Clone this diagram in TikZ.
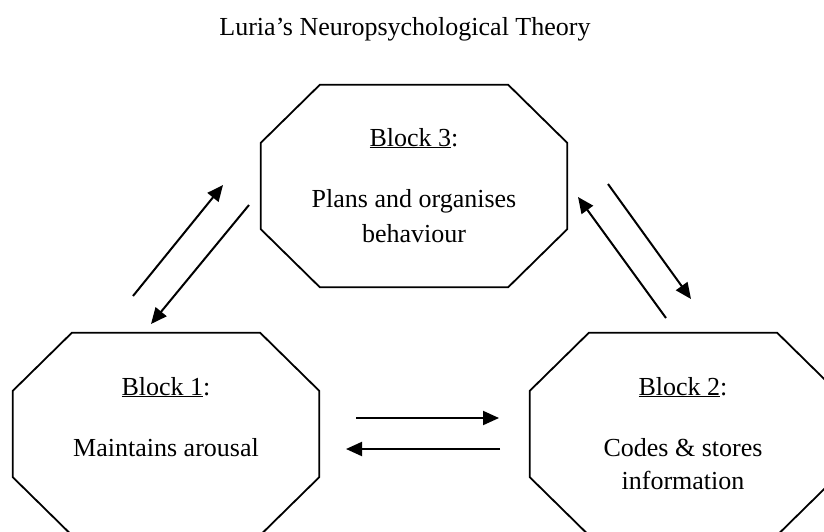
\documentclass[tikz,border=0pt]{standalone}
\usepackage{fontspec}
\setmainfont{Liberation Serif}
\usetikzlibrary{arrows.meta}
\begin{document}
\begin{tikzpicture}[x=1pt,y=-1pt,
  blockbox/.style={draw=none, minimum width=306pt, minimum height=202pt, inner sep=0pt},
  octaline/.style={draw=black, line width=1.8pt, line join=miter},
  conn/.style={line width=2pt, -{Triangle[length=16pt,width=14pt]}},
  lbl/.style={font=\fontsize{26}{30}\selectfont, anchor=base, inner sep=0pt}]
\useasboundingbox (0,0) rectangle (824,531);
\clip (0,0) rectangle (824,531);
% title
\node[lbl] (title) at (405,35) {Luria’s Neuropsychological Theory};
% blocks
\node[blockbox] (b3) at (414,186) {};
\node[blockbox] (b1) at (166,434) {};
\node[blockbox] (b2) at (683,434) {};
\foreach \b in {b1,b2,b3}{
  \draw[octaline] ([xshift=59pt]\b.north west) -- ([xshift=-59pt]\b.north east)
    -- ([yshift=-58pt]\b.north east) -- ([yshift=58pt]\b.south east)
    -- ([xshift=-59pt]\b.south east) -- ([xshift=59pt]\b.south west)
    -- ([yshift=58pt]\b.south west) -- ([yshift=-58pt]\b.north west) -- cycle;
}
% texts
\node[lbl] (t3a) at ([yshift=40pt]b3.center) {\underline{Block 3}:};
\node[lbl] (t3b) at ([yshift=-21pt]b3.center) {Plans and organises};
\node[lbl] (t3c) at ([yshift=-56pt]b3.center) {behaviour};
\node[lbl] (t1a) at ([yshift=39pt]b1.center) {\underline{Block 1}:};
\node[lbl] (t1b) at ([yshift=-22pt]b1.center) {Maintains arousal};
\node[lbl] (t2a) at ([yshift=39pt]b2.center) {\underline{Block 2}:};
\node[lbl] (t2b) at ([yshift=-22pt]b2.center) {Codes \& stores};
\node[lbl] (t2c) at ([yshift=-55pt]b2.center) {information};
% connector end points
\coordinate (a1s) at (133,296); \coordinate (a1e) at (223,185);
\coordinate (a2s) at (249,205); \coordinate (a2e) at (151,324);
\coordinate (a3s) at (666,318); \coordinate (a3e) at (578,197);
\coordinate (a4s) at (608,184); \coordinate (a4e) at (691,299);
\coordinate (a5s) at (356,418); \coordinate (a5e) at (499,418);
\coordinate (a6s) at (500,449); \coordinate (a6e) at (346,449);
\draw[conn] (a1s) -- (a1e);
\draw[conn] (a2s) -- (a2e);
\draw[conn] (a3s) -- (a3e);
\draw[conn] (a4s) -- (a4e);
\draw[conn] (a5s) -- (a5e);
\draw[conn] (a6s) -- (a6e);
\end{tikzpicture}
\end{document}
